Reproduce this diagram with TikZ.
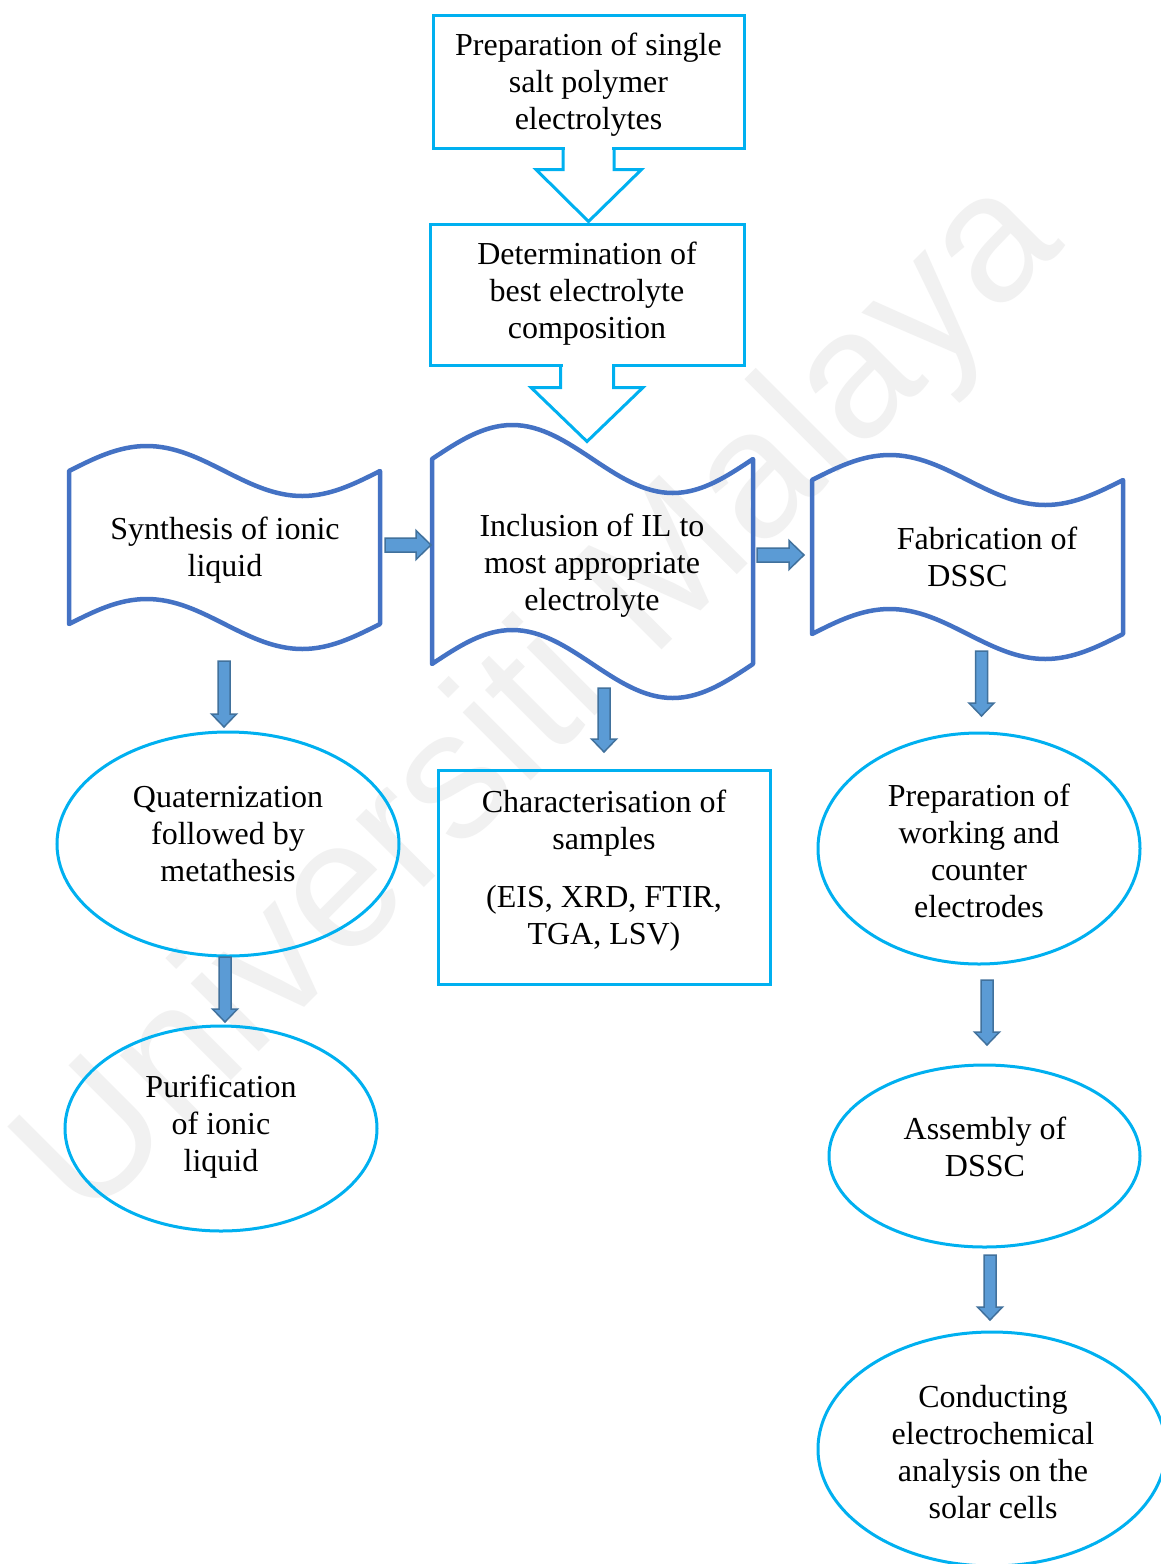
\documentclass[tikz,border=0pt]{standalone}
\usepackage{fontspec}
\setmainfont{Liberation Serif}
\newfontfamily\wmfont{Liberation Sans}
\usetikzlibrary{calc,shapes.geometric}
\definecolor{cyanb}{HTML}{00B0F0}
\definecolor{tapeb}{HTML}{4472C4}
\definecolor{arrf}{HTML}{5B9BD5}
\definecolor{arrd}{HTML}{41719C}
\definecolor{wmgray}{HTML}{F1F1F1}
\newcommand\varrow[2]{\draw[blockarrow] let \p1=(#1), \p2=(#2) in
  (\x1-6pt,\y1) -- (\x1+6pt,\y1) -- (\x1+6pt,\y2+13pt) -- (\x1+12.5pt,\y2+13pt)
  -- (\x1,\y2) -- (\x1-12.5pt,\y2+13pt) -- (\x1-6pt,\y2+13pt) -- cycle;}
\newcommand\harrow[2]{\draw[blockarrow] let \p1=(#1), \p2=(#2) in
  (\x1,\y1+7pt) -- (\x2-15pt,\y1+7pt) -- (\x2-15pt,\y1+14.5pt) -- (\x2,\y1)
  -- (\x2-15pt,\y1-14.5pt) -- (\x2-15pt,\y1-7pt) -- (\x1,\y1-7pt) -- cycle;}
% tape: x0, x1, ytop, ybottom, amplitude
\newcommand\tape[5]{\draw[tapest]
  (#1,#3) sin ({#1+(#2-#1)/4},{#3-#5}) cos ({(#1+#2)/2},#3)
  sin ({#1+3*(#2-#1)/4},{#3+#5}) cos (#2,#3) -- (#2,#4)
  sin ({#1+3*(#2-#1)/4},{#4+#5}) cos ({(#1+#2)/2},#4)
  sin ({#1+(#2-#1)/4},{#4-#5}) cos (#1,#4) -- cycle;}
\begin{document}
\begin{tikzpicture}[x=1pt,y=-1pt,
  txt/.style={align=center,font=\fontsize{32}{37}\selectfont,inner sep=0pt},
  cboxst/.style={draw=cyanb,line width=3pt,inner sep=0pt},
  ellst/.style={ellipse,draw=cyanb,line width=3pt,inner sep=0pt},
  tapest/.style={draw=tapeb,line width=4.5pt,line join=round},
  hollow/.style={draw=cyanb,line width=3pt,line join=miter},
  blockarrow/.style={fill=arrf,draw=arrd,line width=1.5pt,line join=miter}]
\useasboundingbox (0,0) rectangle (1160,1564);
\fill[white] (0,0) rectangle (1160,1564);
% watermark
\node[rotate=45,text=wmgray,inner sep=0pt,font=\wmfont\fontsize{182}{182}\selectfont] (wm) at (543,702) {Universiti Malaya};

% boxes
\node[cboxst,minimum width=311pt,minimum height=133pt] (box1) at (588.5,81.5) {};
\node[txt] (t1) at (588.5,85) {Preparation of single\\salt polymer\\electrolytes};
\node[cboxst,minimum width=314pt,minimum height=141pt] (box2) at (587,294.5) {};
\node[txt] (t2) at (587,294) {Determination of\\best electrolyte\\composition};
\node[cboxst,minimum width=332pt,minimum height=214pt] (box3) at (604,877) {};
\node[txt] (t3) at (604,871) {Characterisation of\\samples\\[21pt](EIS, XRD, FTIR,\\TGA, LSV)};

% hollow arrows
\fill[white] ($(box1.south)+(-23.5,-3)$) rectangle ($(box1.south)+(23.5,3)$);
\draw[hollow] ($(box1.south)+(-25.5,0)$) -- ++(0,20) -- ++(-27,0) -- ($(box1.south)+(0,72)$)
  -- ($(box1.south)+(53,20)$) -- ++(-27.5,0) -- ($(box1.south)+(25.5,0)$);
\fill[white] ($(box2.south)+(-24.5,-3)$) rectangle ($(box2.south)+(24.5,3)$);
\draw[hollow] ($(box2.south)+(-26.5,0)$) -- ++(0,21) -- ++(-29.5,0) -- ($(box2.south)+(0,75)$)
  -- ($(box2.south)+(56,21)$) -- ++(-29.5,0) -- ($(box2.south)+(26.5,0)$);

% tapes
\tape{69}{380}{471}{624}{25}
\tape{432}{753}{459}{664}{34}
\tape{812}{1123}{480}{634}{25}
\node[txt] (tapeL) at (225,550.5) {Synthesis of ionic\\liquid};
\node[txt] (tapeC) at (592,566) {Inclusion of IL to\\most appropriate\\electrolyte};
\node[txt] (tapeR) at (987,557) {Fabrication of\\DSSC\hspace*{39pt}};

% ellipses
\node[ellst,minimum width=342pt,minimum height=224pt] (e1) at (228,844) {};
\node[txt] (e1t) at (228,834) {Quaternization\\followed by\\metathesis};
\node[ellst,minimum width=312pt,minimum height=205pt] (e2) at (221,1128.5) {};
\node[txt] (e2t) at (221,1126.5) {Purification\\of ionic\\liquid};
\node[ellst,minimum width=322pt,minimum height=231pt] (e3) at (979,848.5) {};
\node[txt] (e3t) at (979,850.5) {Preparation of\\working and\\counter\\electrodes};
\node[ellst,minimum width=311pt,minimum height=182pt] (e4) at (984.5,1156) {};
\node[txt] (e4t) at (985,1146.5) {Assembly of\\DSSC};
\node[ellst,minimum width=348pt,minimum height=234pt] (e5) at (992,1449) {};
\node[txt] (e5t) at (993,1452.5) {Conducting\\electrochemical\\analysis on the\\solar cells};

% block arrows
\coordinate (h1s) at (385,545); \coordinate (h1e) at (431,545);
\coordinate (h2s) at (757,555); \coordinate (h2e) at (804,555);
\harrow{h1s}{h1e}
\harrow{h2s}{h2e}
\coordinate (a1s) at (224,661); \coordinate (a1e) at (224,727);
\coordinate (a2s) at (604,688); \coordinate (a2e) at (604,752);
\coordinate (a3s) at (981.5,651); \coordinate (a3e) at (981.5,716);
\coordinate (a4s) at (225,957); \coordinate (a4e) at (225,1022);
\coordinate (a5s) at (987,980); \coordinate (a5e) at (987,1045);
\coordinate (a6s) at (990,1255); \coordinate (a6e) at (990,1320);
\varrow{a1s}{a1e}
\varrow{a2s}{a2e}
\varrow{a3s}{a3e}
\varrow{a4s}{a4e}
\varrow{a5s}{a5e}
\varrow{a6s}{a6e}
\end{tikzpicture}
\end{document}
